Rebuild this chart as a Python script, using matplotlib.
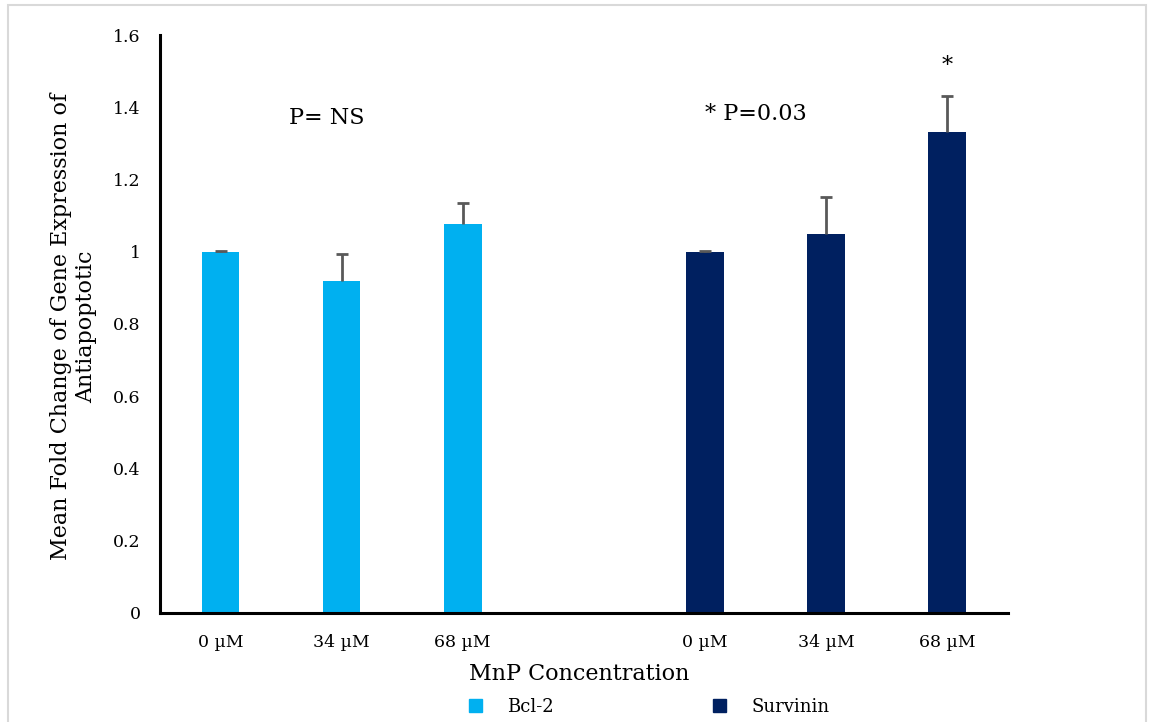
import matplotlib
matplotlib.use("Agg")
import matplotlib.pyplot as plt
from matplotlib.patches import Rectangle, Patch

plt.rcParams['font.family'] = ['DejaVu Serif']

tick_labels = ["0 µM", "34 µM", "68 µM", "", "0 µM", "34 µM", "68 µM"]
bcl2_pos = [0, 1, 2]
surv_pos = [4, 5, 6]
bcl2_vals = [1.0, 0.92, 1.077]
bcl2_err = [0.002, 0.075, 0.057]
surv_vals = [1.0, 1.049, 1.331]
surv_err = [0.002, 0.103, 0.1]
series_names = ["Bcl-2", "Survinin"]
colors = ["#00B0F0", "#002060"]
err_color = "#595959"

fig = plt.figure(figsize=(11.49, 7.22), dpi=100)
ax = fig.add_axes([0.1393, 0.151, 0.7377, 0.8005])

for pos, vals, errs, c in [(bcl2_pos, bcl2_vals, bcl2_err, colors[0]),
                           (surv_pos, surv_vals, surv_err, colors[1])]:
    ax.bar(pos, vals, width=0.31, color=c, zorder=2)
    tops = [v + e for v, e in zip(vals, errs)]
    ax.vlines(pos, vals, tops, color=err_color, linewidth=2.0, zorder=3)
    ax.plot(pos, tops, linestyle="none", marker="_", markersize=9, mew=2.0,
            color=err_color, zorder=3)

ax.set_xlim(-0.5, 6.5)
ax.set_ylim(0, 1.6)
ax.set_xticks(range(7))
ax.set_xticklabels(tick_labels, fontsize=12.5)
ax.set_yticks([0, 0.2, 0.4, 0.6, 0.8, 1.0, 1.2, 1.4, 1.6])
ax.set_yticklabels(["0", "0.2", "0.4", "0.6", "0.8", "1", "1.2", "1.4", "1.6"], fontsize=12.5)
ax.tick_params(axis='x', length=0, pad=15)
ax.tick_params(axis='y', length=0, pad=14)
for s in ["top", "right"]:
    ax.spines[s].set_visible(False)
for s in ["left", "bottom"]:
    ax.spines[s].set_linewidth(2.2)
    ax.spines[s].set_color("black")

ax.text(0.88, 1.37, "P= NS", fontsize=16, ha="center", va="center")
ax.text(4.42, 1.38, "* P=0.03", fontsize=16, ha="center", va="center")
ax.text(6.0, 1.515, "*", fontsize=16, ha="center", va="center")

fig.text(0.064, 0.548, "Mean Fold Change of Gene Expression of\nAntiapoptotic",
         rotation=90, ha="center", va="center", fontsize=16, linespacing=1.15)
fig.text(0.504, 0.066, "MnP Concentration", ha="center", va="center", fontsize=16)

handles = [Patch(color=colors[0], label=series_names[0]), Patch(color=colors[1], label=series_names[1])]
fig.legend(handles=handles, loc="center", bbox_to_anchor=(0.565, 0.021), ncol=2, frameon=False,
           fontsize=13, handlelength=0.72, handleheight=0.72, columnspacing=8.8, handletextpad=1.4,
           borderpad=0.1)

fig.patches.append(Rectangle((0.007, -0.01), 0.99, 1.003, transform=fig.transFigure,
                             fill=False, edgecolor="#D9D9D9", linewidth=1.5))

fig.savefig("out.png", dpi=100)
